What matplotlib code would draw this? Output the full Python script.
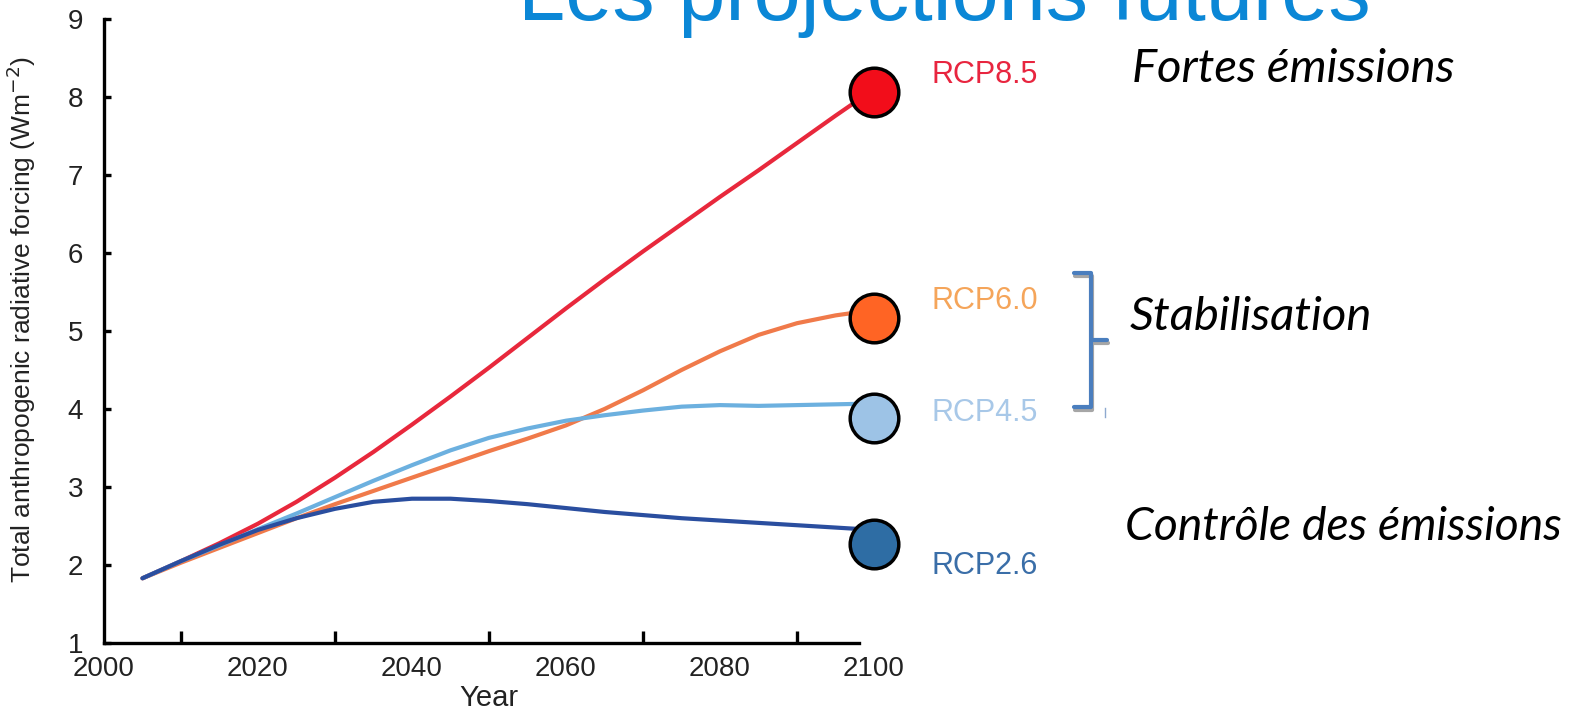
import matplotlib
matplotlib.use("Agg")
import matplotlib.pyplot as plt
from matplotlib.lines import Line2D

# forcing (W m-2), every 5 years
years = [2005, 2010, 2015, 2020, 2025, 2030, 2035, 2040, 2045, 2050,
         2055, 2060, 2065, 2070, 2075, 2080, 2085, 2090, 2095, 2100]
rcp85 = [1.83, 2.05, 2.28, 2.53, 2.81, 3.12, 3.45, 3.80, 4.16, 4.53,
         4.91, 5.29, 5.66, 6.02, 6.37, 6.72, 7.06, 7.41, 7.76, 8.10]
rcp60 = [1.83, 2.03, 2.22, 2.41, 2.60, 2.78, 2.95, 3.12, 3.29, 3.46,
         3.62, 3.79, 4.00, 4.24, 4.50, 4.74, 4.95, 5.10, 5.20, 5.27]
rcp45 = [1.83, 2.05, 2.25, 2.46, 2.66, 2.87, 3.08, 3.28, 3.47, 3.63,
         3.75, 3.85, 3.92, 3.98, 4.03, 4.05, 4.04, 4.05, 4.06, 4.07]
rcp26 = [1.83, 2.05, 2.26, 2.45, 2.60, 2.72, 2.81, 2.85, 2.85, 2.82,
         2.78, 2.73, 2.68, 2.64, 2.60, 2.57, 2.54, 2.51, 2.48, 2.45]

scenarios = ['RCP8.5', 'RCP6.0', 'RCP4.5', 'RCP2.6']
series = [rcp85, rcp60, rcp45, rcp26]
end_values = [8.07, 5.17, 3.89, 2.27]
label_y = [8.18, 5.28, 3.85, 1.885]

line_colors = ['#e8283c', '#f07a4a', '#6cb0df', '#2a4e9f']
dot_colors = ['#f20d1a', '#ff6424', '#9dc3e6', '#2e6da4']
text_colors = ['#e8253f', '#f5a55a', '#a8c8e8', '#3a6ea8']

groups = ['Fortes émissions', 'Stabilisation', 'Contrôle des émissions']

W, H = 1570, 712
fig = plt.figure(figsize=(15.7, 7.12), dpi=100)
ax = fig.add_axes([104 / W, 1 - 643 / H, 770 / W, 624 / H])

for vals, lc in zip(series, line_colors):
    ax.plot(years, vals, color=lc, lw=3, solid_capstyle='round',
            solid_joinstyle='round', zorder=2)

for ev, dc in zip(end_values, dot_colors):
    ax.plot([2100], [ev], 'o', ms=35, mfc=dc, mec='black', mew=2.5,
            clip_on=False, zorder=5)

for name, ly, tc in zip(scenarios, label_y, text_colors):
    ax.text(2107.5, ly, name, color=tc, fontsize=22, va='baseline',
            family='Liberation Sans', clip_on=False)

ax.set_xlim(2000, 2100)
ax.set_ylim(1, 9)
for s in ['top', 'right']:
    ax.spines[s].set_visible(False)
ax.spines['left'].set_linewidth(2.4)
ax.spines['bottom'].set_linewidth(2.4)
ax.spines['bottom'].set_bounds(2000, 2098)

ax.set_xticks(range(2000, 2101, 20))
ax.set_xticks(range(2010, 2100, 10), minor=True)
ax.set_yticks(range(1, 10))
ax.tick_params(axis='x', which='major', length=0, pad=9, labelsize=20)
ax.tick_params(axis='x', which='minor', direction='in', length=9, width=2.4)
ax.tick_params(axis='y', direction='in', length=5, width=2.4, pad=15, labelsize=20)
for lab in ax.get_xticklabels() + ax.get_yticklabels():
    lab.set_family('Liberation Sans')
    lab.set_color('#222222')

ax.set_xlabel('Year', fontsize=21, family='Liberation Sans', labelpad=2,
              color='#222222')
ax.set_ylabel('Total anthropogenic radiative forcing (Wm$^{-2}$)', fontsize=19,
              family='Liberation Sans', color='#222222')
ax.yaxis.set_label_coords(-0.086, 0.518)

# title, cut by the top edge as in the slide
fig.text(518 / W, 1 - 20 / H, 'Les projections futures', color='#0b87d6',
         fontsize=61, family='Liberation Sans', va='baseline')

# italic group labels
fig.text(1132 / W, 1 - 82 / H, groups[0], fontsize=34, style='italic',
         family='Lato', va='baseline')
fig.text(1130 / W, 1 - 330 / H, groups[1], fontsize=34, style='italic',
         family='Lato', va='baseline')
fig.text(1125 / W, 1 - 540 / H, groups[2], fontsize=33.3, style='italic',
         family='Lato', va='baseline')

# bracket around the stabilisation scenarios
bx = [1074, 1091, 1091, 1074]
by = [273, 273, 407, 407]
for dx, dy, col in [(1, 3, '#a6a6a6'), (0, 0, '#4a7ebe')]:
    fig.add_artist(Line2D([(x + dx) / W for x in bx], [1 - (y + dy) / H for y in by],
                          color=col, lw=3, solid_joinstyle='round',
                          solid_capstyle='round'))
    fig.add_artist(Line2D([(1091 + dx) / W, (1107 + dx) / W],
                          [1 - (340 + dy) / H, 1 - (340 + dy) / H],
                          color=col, lw=3, solid_capstyle='round'))
fig.add_artist(Line2D([1105 / W, 1105 / W], [1 - 408 / H, 1 - 417 / H],
                      color='#8ea9cf', lw=1))

fig.savefig('out.png', dpi=100)
